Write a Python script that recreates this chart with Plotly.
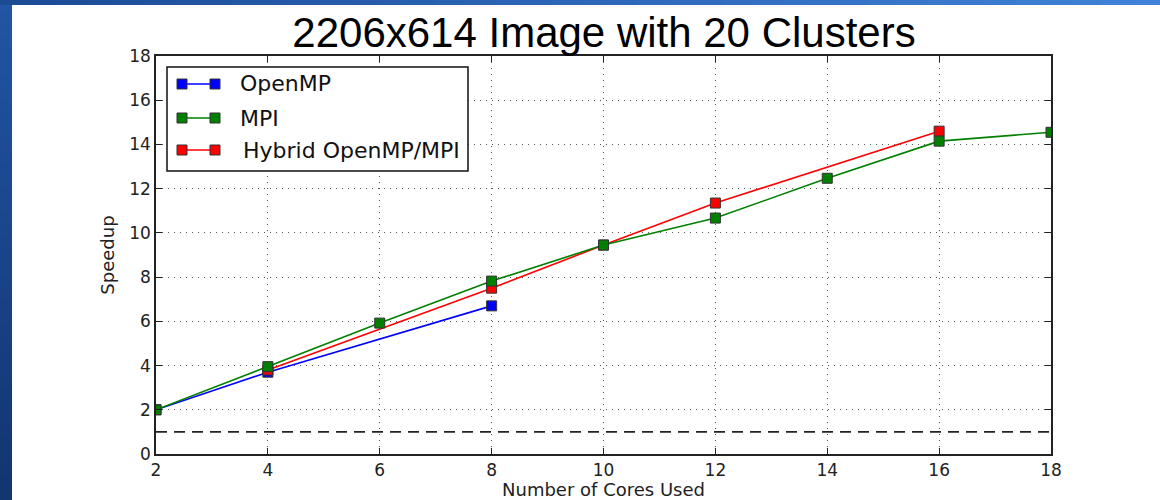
import plotly.graph_objects as go

# Speedup measurements for a 2206x614 image segmented into 20 clusters
openmp_cores = [2, 4, 8]
openmp_speedup = [2.0, 3.7, 6.7]

mpi_cores = [2, 4, 6, 8, 10, 12, 14, 16, 18]
mpi_speedup = [2.0, 3.95, 5.92, 7.82, 9.45, 10.67, 12.47, 14.15, 14.55]

hybrid_cores = [4, 8, 10, 12, 16]
hybrid_speedup = [3.8, 7.5, 9.45, 11.35, 14.6]

baseline_speedup = 1.0
x_ticks = list(range(2, 19, 2))
y_ticks = list(range(0, 19, 2))

series_names = ["OpenMP", "MPI", "Hybrid OpenMP/MPI"]
BLUE, GREEN, RED = "#0000ff", "#008000", "#ff0000"
series_colors = [BLUE, GREEN, RED]

W, H = 1160, 500
ML, MR, MT, MB = 156, 109, 56, 46
PW, PH = W - ML - MR, H - MT - MB


def px(x):
    """Pixel column -> paper x."""
    return (x - ML) / PW


def py(y):
    """Pixel row -> paper y."""
    return 1 - (y - MT) / PH


TICK_FONT = dict(family="DejaVu Sans", size=17, color="#222")
LABEL_FONT = dict(family="DejaVu Sans", size=18, color="#222")


def series(x, y, name, color):
    return go.Scatter(
        x=x, y=y, name=name, mode="lines+markers", showlegend=False,
        line=dict(color=color, width=1.6),
        marker=dict(symbol="square", size=10, color=color,
                    line=dict(color="#333", width=1)),
    )


fig = go.Figure()
# MPI drawn last so its markers sit on top of the hybrid ones
fig.add_trace(series(openmp_cores, openmp_speedup, series_names[0], BLUE))
fig.add_trace(series(hybrid_cores, hybrid_speedup, series_names[2], RED))
fig.add_trace(series(mpi_cores, mpi_speedup, series_names[1], GREEN))

# Reference speedup of 1
fig.add_shape(type="line", xref="x", yref="y",
              x0=x_ticks[0], x1=x_ticks[-1], y0=baseline_speedup, y1=baseline_speedup,
              line=dict(color="#222", width=1.6, dash="11px,7px"), layer="below")

# Legend box with line+two-marker glyphs
fig.add_shape(type="rect", xref="paper", yref="paper",
              x0=px(167), x1=px(468), y0=py(67), y1=py(171),
              fillcolor="white", line=dict(color="#111", width=1.5), layer="above")
row_y = [84, 118, 150]
text_x = [238, 238, 241]
for name, color, ry, tx in zip(series_names, series_colors, row_y, text_x):
    fig.add_shape(type="line", xref="paper", yref="paper",
                  x0=px(182), x1=px(215), y0=py(ry), y1=py(ry),
                  line=dict(color=color, width=1.6), layer="above")
    for cx in (182, 215):
        fig.add_shape(type="rect", xref="paper", yref="paper",
                      x0=px(cx - 5), x1=px(cx + 5), y0=py(ry - 5), y1=py(ry + 5),
                      fillcolor=color, line=dict(color="#333", width=1), layer="above")
    fig.add_annotation(xref="paper", yref="paper", x=px(tx), y=py(ry),
                       xanchor="left", yanchor="middle", showarrow=False,
                       text=name, font=dict(family="DejaVu Sans", size=22, color="#111"))

# Slide frame: blue gradient strips along the left and top edges
n = 40
for i in range(n):
    t = i / (n - 1)
    r = int(0x22 + (0x12 - 0x22) * t)
    g = int(0x55 + (0x36 - 0x55) * t)
    b = int(0xa3 + (0x70 - 0xa3) * t)
    fig.add_shape(type="rect", xref="paper", yref="paper", layer="above",
                  x0=px(0), x1=px(12),
                  y0=py(H * i / n), y1=py(H * (i + 1) / n + 1),
                  fillcolor=f"rgb({r},{g},{b})", line=dict(width=0))
for i in range(n):
    t = i / (n - 1)
    r = int(0x1c + (0x40 - 0x1c) * t)
    g = int(0x4b + (0x82 - 0x4b) * t)
    b = int(0x96 + (0xda - 0x96) * t)
    fig.add_shape(type="rect", xref="paper", yref="paper", layer="above",
                  x0=px(W * i / n), x1=px(W * (i + 1) / n + 1),
                  y0=py(0), y1=py(5),
                  fillcolor=f"rgb({r},{g},{b})", line=dict(width=0))

axis_common = dict(
    showline=True, linecolor="#222", linewidth=1.6, mirror="allticks",
    ticks="inside", ticklen=6, tickcolor="#222", tickwidth=1,
    showgrid=True, gridcolor="#555", gridwidth=1, griddash="1px,5px",
    zeroline=False, tickfont=TICK_FONT, automargin=False,
)

fig.update_xaxes(range=[2, 18], tickvals=x_ticks,
                 title=dict(text="Number of Cores Used", standoff=6, font=LABEL_FONT),
                 **axis_common)
fig.update_yaxes(range=[0, 18], tickvals=y_ticks,
                 title=dict(text="Speedup", standoff=10, font=LABEL_FONT),
                 **axis_common)

fig.update_layout(
    width=W, height=H,
    margin=dict(l=ML, r=MR, t=MT, b=MB, autoexpand=False),
    paper_bgcolor="white", plot_bgcolor="white",
    title=dict(text="2206x614 Image with 20 Clusters", x=604 / W, xanchor="center",
               y=1 - 32 / H, yanchor="middle", automargin=False,
               font=dict(family="Liberation Sans", size=42, color="black")),
    showlegend=False,
)

fig.write_html("out.html")
